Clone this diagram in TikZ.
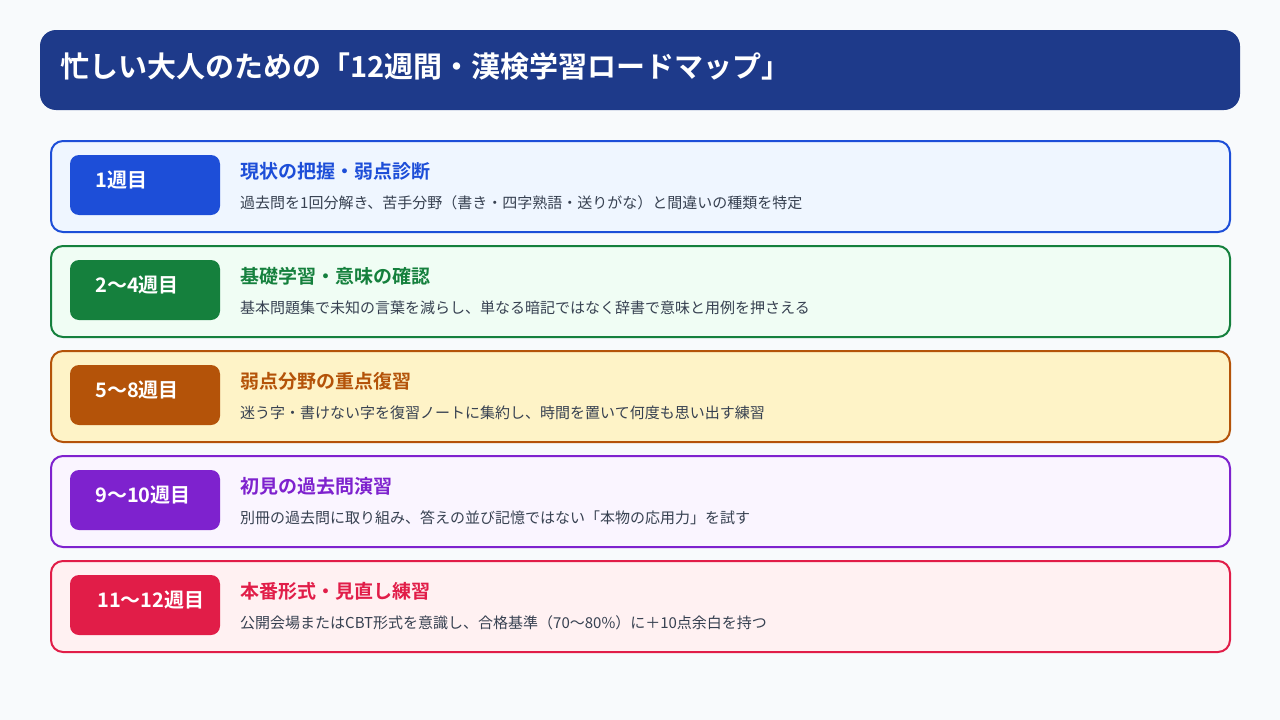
\documentclass[tikz,border=0pt]{standalone}
\usepackage{fontspec}
\setmainfont{Noto Sans CJK JP}[BoldFont={Noto Sans CJK JP Bold}]
\usepackage{tikz}
\definecolor{pagebg}{HTML}{F8FAFC}
\definecolor{navy}{HTML}{1E3A8A}
\definecolor{desctext}{HTML}{374151}
\definecolor{wkblue}{HTML}{1D4ED8}
\definecolor{wkbluebg}{HTML}{EFF6FF}
\definecolor{wkgreen}{HTML}{15803D}
\definecolor{wkgreenbg}{HTML}{F0FDF4}
\definecolor{wkorange}{HTML}{B45309}
\definecolor{wkorangebg}{HTML}{FEF3C7}
\definecolor{wkpurple}{HTML}{7E22CE}
\definecolor{wkpurplebg}{HTML}{FAF5FF}
\definecolor{wkrose}{HTML}{E11D48}
\definecolor{wkrosebg}{HTML}{FFF1F2}
\tikzset{titlebar/.style={fill=navy, rounded corners=16pt, minimum width=1200pt, minimum height=80pt, inner sep=0pt}}
\tikzset{phasecard/.style={draw=#1, fill=#1bg, line width=2pt, rounded corners=12pt, minimum width=1179pt, minimum height=91pt, inner sep=0pt}}
\tikzset{weekbadge/.style={fill=#1, rounded corners=9pt, minimum width=150pt, minimum height=60pt, inner sep=0pt}}
\tikzset{weektext/.style={anchor=west, inner sep=0pt, text=white, font=\fontsize{20pt}{24pt}\selectfont\bfseries}}
\tikzset{phasehead/.style={anchor=west, inner sep=0pt, text=#1, font=\fontsize{19pt}{23pt}\selectfont\bfseries}}
\tikzset{phasedesc/.style={anchor=west, inner sep=0pt, text=desctext, font=\fontsize{15pt}{18pt}\selectfont}}

\begin{document}
\begin{tikzpicture}[x=1pt, y=-1pt]
            \fill[pagebg] (0, 0) rectangle (1280, 720);
            \useasboundingbox (0, 0) rectangle (1280, 720);
            \node[titlebar] (bar) at (640, 70) {};
            \node[anchor=west, inner sep=0pt, text=white, font=\fontsize{29pt}{34pt}\selectfont\bfseries] (title) at (60, 66) {忙しい大人のための「12週間・漢検学習ロードマップ」};
            % week 1
            \node[phasecard=wkblue] (card1) at (640.5, 186.5) {};
            \node[weekbadge=wkblue] (badge1) at (145, 185) {};
            \node[weektext] (week1) at (95, 180) {1週目};
            \node[phasehead=wkblue] (head1) at (240, 171) {現状の把握・弱点診断};
            \node[phasedesc] (desc1) at (240, 203) {過去問を1回分解き、苦手分野（書き・四字熟語・送りがな）と間違いの種類を特定};
            % weeks 2-4
            \node[phasecard=wkgreen] (card2) at (640.5, 291.5) {};
            \node[weekbadge=wkgreen] (badge2) at (145, 290) {};
            \node[weektext] (week2) at (95, 285) {2〜4週目};
            \node[phasehead=wkgreen] (head2) at (240, 276) {基礎学習・意味の確認};
            \node[phasedesc] (desc2) at (240, 308) {基本問題集で未知の言葉を減らし、単なる暗記ではなく辞書で意味と用例を押さえる};
            % weeks 5-8
            \node[phasecard=wkorange] (card3) at (640.5, 396.5) {};
            \node[weekbadge=wkorange] (badge3) at (145, 395) {};
            \node[weektext] (week3) at (95, 390) {5〜8週目};
            \node[phasehead=wkorange] (head3) at (240, 381) {弱点分野の重点復習};
            \node[phasedesc] (desc3) at (240, 413) {迷う字・書けない字を復習ノートに集約し、時間を置いて何度も思い出す練習};
            % weeks 9-10
            \node[phasecard=wkpurple] (card4) at (640.5, 501.5) {};
            \node[weekbadge=wkpurple] (badge4) at (145, 500) {};
            \node[weektext] (week4) at (95, 495) {9〜10週目};
            \node[phasehead=wkpurple] (head4) at (240, 486) {初見の過去問演習};
            \node[phasedesc] (desc4) at (240, 518) {別冊の過去問に取り組み、答えの並び記憶ではない「本物の応用力」を試す};
            % weeks 11-12
            \node[phasecard=wkrose] (card5) at (640.5, 606.5) {};
            \node[weekbadge=wkrose] (badge5) at (145, 605) {};
            \node[weektext] (week5) at (97, 600) {11〜12週目};
            \node[phasehead=wkrose] (head5) at (240, 591) {本番形式・見直し練習};
            \node[phasedesc] (desc5) at (240, 623) {公開会場またはCBT形式を意識し、合格基準（70〜80\%）に＋10点余白を持つ};
        \end{tikzpicture}
\end{document}
